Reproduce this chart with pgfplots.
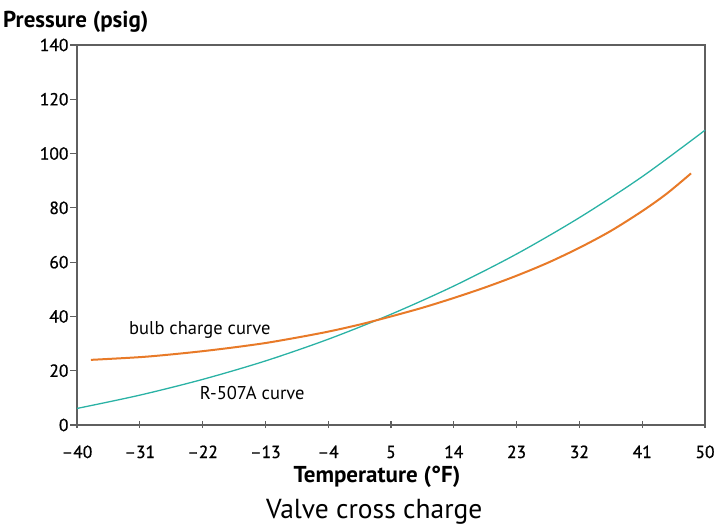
\documentclass[border=0pt]{standalone}
\usepackage{fontspec}
\setmainfont{PT Sans}
\newfontfamily\tickfont[FakeBold=0.8]{PT Sans}
\usepackage{pgfplots}
\pgfplotsset{compat=1.18}
\definecolor{teal507}{RGB}{42,178,165}
\definecolor{bulborange}{RGB}{232,122,40}
\definecolor{axisgray}{RGB}{95,95,95}
\begin{document}
\begin{tikzpicture}
\begin{axis}[
  scale only axis,
  width=628pt, height=380pt,
  xmin=-40, xmax=50, ymin=0, ymax=140,
  xtick={-40,-31,-22,-13,-4,5,14,23,32,41,50},
  xticklabels={–40,–31,–22,–13,–4,5,14,23,32,41,50},
  ytick={0,20,...,140},
  axis line style={axisgray, line width=1.2pt},
  tick style={axisgray, line width=1.2pt},
  major tick length=7pt,
  x tick style={yshift=-3pt},
  y tick style={xshift=-7pt},
  xtick pos=bottom, ytick pos=left,
  ticklabel style={font=\fontsize{17.5}{20}\tickfont, text=black},
  /pgf/number format/assume math mode=true,
  x tick label style={anchor=base, yshift=-33pt},
  y tick label style={xshift=-5pt},
  clip=false,
]
% R-507A saturation curve
\addplot[teal507, line width=1.3pt, smooth] coordinates {
 (-40,6.1)(-31,11.0)(-22,16.8)(-13,23.6)(-4,31.6)(5,40.8)(14,51.2)(23,63.0)(32,76.4)(41,91.5)(50,108.6)};
% bulb charge curve
\addplot[bulborange, line width=2pt, smooth] coordinates {
 (-38,24)(-31,25.0)(-26.5,26.0)(-22,27.2)(-17.5,28.6)(-13,30.2)(-8.5,32.2)(-4,34.4)(0.5,37.0)(5,40.0)
 (9.5,43.2)(14,46.8)(18.5,50.7)(23,55.0)(27.5,59.8)(32,65.3)(36.5,71.5)(41,78.8)(44.5,85.2)(48,92.7)};
\node[font=\fontsize{18.5}{22}\selectfont, anchor=base] at (axis cs:-22.4,33.4) {bulb charge curve};
\node[font=\fontsize{18.5}{22}\selectfont, anchor=base] at (axis cs:-14.9,9.5) {R-507A curve};
\node[font=\fontsize{23}{27}\selectfont\bfseries, anchor=base west, inner sep=0pt] at ([xshift=-74pt,yshift=18pt]rel axis cs:0,1) {Pressure (psig)};
\node[font=\fontsize{23}{27}\selectfont\bfseries, anchor=base] at ([yshift=-57pt]axis cs:3,0) {Temperature (°F)};
\node[font=\fontsize{27.5}{31}\selectfont, anchor=base, inner sep=0pt] at ([yshift=-93pt]axis cs:2.6,0) {Valve cross charge};
\coordinate (ll) at (rel axis cs:0,0);
\coordinate (ur) at (rel axis cs:1,1);
\end{axis}
\pgfresetboundingbox
\path ([xshift=-77pt,yshift=-103pt]ll) rectangle ([xshift=11pt,yshift=45pt]ur);
\end{tikzpicture}
\end{document}
